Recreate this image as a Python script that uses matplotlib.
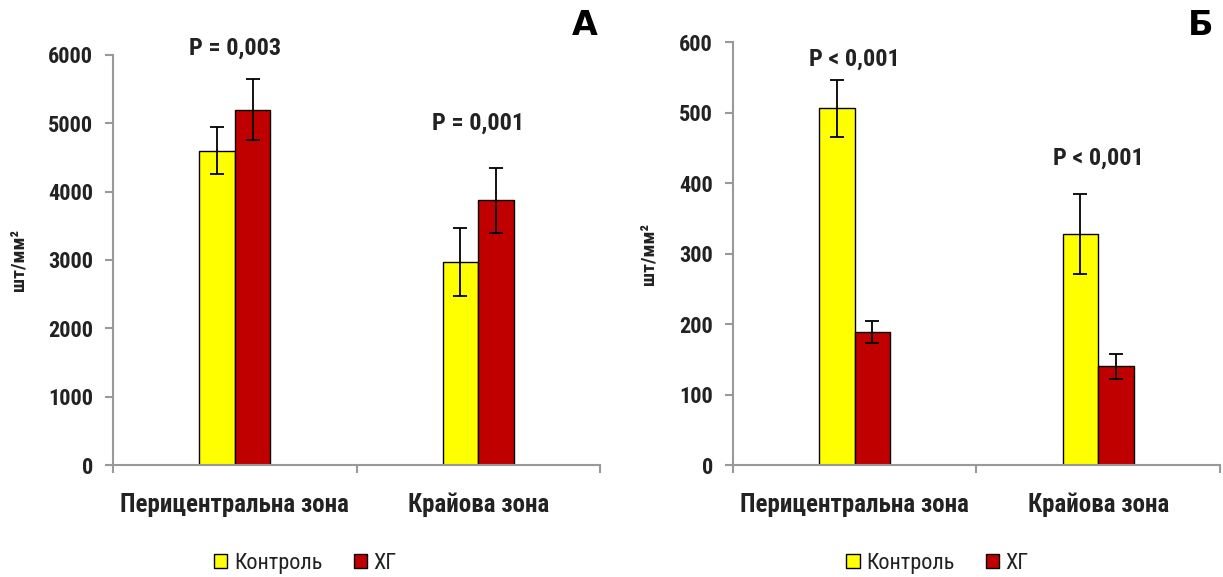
import numpy as np
import matplotlib.pyplot as plt
from matplotlib.patches import Patch
from matplotlib import font_manager

# шукаємо вузький шрифт, схожий на Calibri
avail = {f.name for f in font_manager.fontManager.ttflist}
fam = [n for n in ['Liberation Sans Narrow', 'Roboto Condensed', 'Open Sans Condensed',
                   'Noto Sans', 'DejaVu Sans'] if n in avail]
plt.rcParams['font.family'] = fam
plt.rcParams['font.stretch'] = 'condensed'

categories = ["Перицентральна зона", "Крайова зона"]
series = ["Контроль", "ХГ"]
colors = ["#ffff00", "#c00000"]

# панель А
a_ctrl = [4600, 2970]
a_ctrl_err = [340, 500]
a_hg = [5200, 3870]
a_hg_err = [450, 480]
a_p = ["P = 0,003", "P = 0,001"]
a_p_y = [6100, 5000]

# панель Б
b_ctrl = [506, 328]
b_ctrl_err = [40, 57]
b_hg = [189, 140]
b_hg_err = [16, 18]
b_p = ["P < 0,001", "P < 0,001"]
b_p_y = [575, 435]

fig = plt.figure(figsize=(12.23, 5.77), dpi=100)
axA = fig.add_axes([0.0924, 0.194, 0.3982, 0.711])
axB = fig.add_axes([0.5993, 0.194, 0.3982, 0.733])


def panel(ax, ctrl, cerr, hg, herr, ymax, step, ptext, py, letter, lx, ylab_x, leg_x, leg_y):
    x = np.arange(len(categories))
    w = 0.146
    ax.bar(x - w / 2, ctrl, w, color=colors[0], edgecolor="black", linewidth=1,
           yerr=cerr, error_kw=dict(ecolor="black", capsize=5, elinewidth=1.3, capthick=1.3))
    ax.bar(x + w / 2, hg, w, color=colors[1], edgecolor="black", linewidth=1,
           yerr=herr, error_kw=dict(ecolor="black", capsize=5, elinewidth=1.3, capthick=1.3))
    ax.set_xlim(-0.5, 1.5)
    ax.set_ylim(0, ymax)
    ax.set_yticks(np.arange(0, ymax + 1, step))
    ax.set_xticks(x)
    ax.set_xticklabels(categories, fontsize=18, fontweight="bold", color="#222222")
    ax.tick_params(axis="x", length=0, pad=20)
    ax.set_xticks([-0.5, 0.5, 1.5], minor=True)
    ax.tick_params(axis="x", which="minor", length=5.5, color="#999999", width=1.5, direction="out")
    ax.tick_params(axis="y", length=5.5, color="#999999", width=1.5, direction="out",
                   labelsize=16, pad=9, labelcolor="#222222")
    for lab in ax.get_yticklabels():
        lab.set_fontweight("bold")
    for s in ["top", "right"]:
        ax.spines[s].set_visible(False)
    for s in ["left", "bottom"]:
        ax.spines[s].set_color("#999999")
        ax.spines[s].set_linewidth(1.5)
    ax.set_ylabel("шт/мм²", fontsize=14, fontweight="bold", color="#222222")
    ax.yaxis.set_label_coords(ylab_x, 0.5)
    for xi, t, yy in zip(x, ptext, py):
        ax.text(xi, yy, t, ha="center", va="center", fontsize=17.5, fontweight="bold",
                color="#222222", clip_on=False)
    fig.text(lx, 0.955, letter, ha="center", va="center", fontsize=24,
             fontweight="bold", family="DejaVu Sans", stretch="normal")
    handles = [Patch(facecolor=c, edgecolor="black", label=s) for c, s in zip(colors, series)]
    ax.legend(handles=handles, loc="center", bbox_to_anchor=(leg_x, leg_y), ncol=2,
              frameon=False, fontsize=16, handlelength=0.6, handleheight=0.6,
              handletextpad=0.3, columnspacing=1.4, labelcolor="#222222")


panel(axA, a_ctrl, a_ctrl_err, a_hg, a_hg_err, 6000, 1000, a_p, a_p_y, "А", 0.478,
      -0.175, 0.395, -0.24)
panel(axB, b_ctrl, b_ctrl_err, b_hg, b_hg_err, 600, 100, b_p, b_p_y, "Б", 0.982,
      -0.154, 0.42, -0.232)

fig.savefig("out.png", dpi=100)
